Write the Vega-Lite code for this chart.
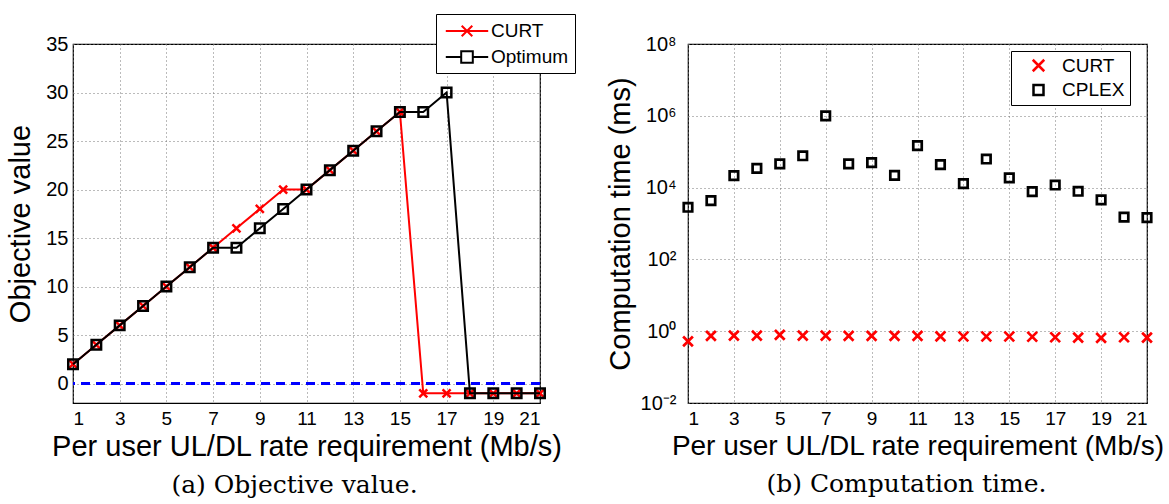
{
  "$schema": "https://vega.github.io/schema/vega-lite/v6.json",
  "padding": {"left": 6, "top": 12, "right": 5, "bottom": 0},
  "background": "white",
  "datasets": {
    "obj": [
      {"x": 1, "series": "CURT", "value": 2}, {"x": 2, "series": "CURT", "value": 4}, {"x": 3, "series": "CURT", "value": 6},
      {"x": 4, "series": "CURT", "value": 8}, {"x": 5, "series": "CURT", "value": 10}, {"x": 6, "series": "CURT", "value": 12},
      {"x": 7, "series": "CURT", "value": 14}, {"x": 8, "series": "CURT", "value": 16}, {"x": 9, "series": "CURT", "value": 18},
      {"x": 10, "series": "CURT", "value": 20}, {"x": 11, "series": "CURT", "value": 20}, {"x": 12, "series": "CURT", "value": 22},
      {"x": 13, "series": "CURT", "value": 24}, {"x": 14, "series": "CURT", "value": 26}, {"x": 15, "series": "CURT", "value": 28},
      {"x": 16, "series": "CURT", "value": -1}, {"x": 17, "series": "CURT", "value": -1}, {"x": 18, "series": "CURT", "value": -1},
      {"x": 19, "series": "CURT", "value": -1}, {"x": 20, "series": "CURT", "value": -1}, {"x": 21, "series": "CURT", "value": -1},
      {"x": 1, "series": "Optimum", "value": 2}, {"x": 2, "series": "Optimum", "value": 4}, {"x": 3, "series": "Optimum", "value": 6},
      {"x": 4, "series": "Optimum", "value": 8}, {"x": 5, "series": "Optimum", "value": 10}, {"x": 6, "series": "Optimum", "value": 12},
      {"x": 7, "series": "Optimum", "value": 14}, {"x": 8, "series": "Optimum", "value": 14}, {"x": 9, "series": "Optimum", "value": 16},
      {"x": 10, "series": "Optimum", "value": 18}, {"x": 11, "series": "Optimum", "value": 20}, {"x": 12, "series": "Optimum", "value": 22},
      {"x": 13, "series": "Optimum", "value": 24}, {"x": 14, "series": "Optimum", "value": 26}, {"x": 15, "series": "Optimum", "value": 28},
      {"x": 16, "series": "Optimum", "value": 28}, {"x": 17, "series": "Optimum", "value": 30}, {"x": 18, "series": "Optimum", "value": -1},
      {"x": 19, "series": "Optimum", "value": -1}, {"x": 20, "series": "Optimum", "value": -1}, {"x": 21, "series": "Optimum", "value": -1}
    ],
    "zero": [{"value": 0}],
    "time": [
      {"x": 1, "series": "CURT", "ms": 0.52}, {"x": 2, "series": "CURT", "ms": 0.74}, {"x": 3, "series": "CURT", "ms": 0.75},
      {"x": 4, "series": "CURT", "ms": 0.75}, {"x": 5, "series": "CURT", "ms": 0.79}, {"x": 6, "series": "CURT", "ms": 0.75},
      {"x": 7, "series": "CURT", "ms": 0.75}, {"x": 8, "series": "CURT", "ms": 0.74}, {"x": 9, "series": "CURT", "ms": 0.74},
      {"x": 10, "series": "CURT", "ms": 0.74}, {"x": 11, "series": "CURT", "ms": 0.74}, {"x": 12, "series": "CURT", "ms": 0.72},
      {"x": 13, "series": "CURT", "ms": 0.71}, {"x": 14, "series": "CURT", "ms": 0.71}, {"x": 15, "series": "CURT", "ms": 0.71},
      {"x": 16, "series": "CURT", "ms": 0.7}, {"x": 17, "series": "CURT", "ms": 0.68}, {"x": 18, "series": "CURT", "ms": 0.66},
      {"x": 19, "series": "CURT", "ms": 0.65}, {"x": 20, "series": "CURT", "ms": 0.68}, {"x": 21, "series": "CURT", "ms": 0.66},
      {"x": 1, "series": "CPLEX", "ms": 2830}, {"x": 2, "series": "CPLEX", "ms": 4360}, {"x": 3, "series": "CPLEX", "ms": 21500},
      {"x": 4, "series": "CPLEX", "ms": 34500}, {"x": 5, "series": "CPLEX", "ms": 46000}, {"x": 6, "series": "CPLEX", "ms": 77000},
      {"x": 7, "series": "CPLEX", "ms": 1000000}, {"x": 8, "series": "CPLEX", "ms": 46000}, {"x": 9, "series": "CPLEX", "ms": 49500},
      {"x": 10, "series": "CPLEX", "ms": 22000}, {"x": 11, "series": "CPLEX", "ms": 147000}, {"x": 12, "series": "CPLEX", "ms": 43500},
      {"x": 13, "series": "CPLEX", "ms": 12900}, {"x": 14, "series": "CPLEX", "ms": 62500}, {"x": 15, "series": "CPLEX", "ms": 18600},
      {"x": 16, "series": "CPLEX", "ms": 7740}, {"x": 17, "series": "CPLEX", "ms": 11800}, {"x": 18, "series": "CPLEX", "ms": 7900},
      {"x": 19, "series": "CPLEX", "ms": 4550}, {"x": 20, "series": "CPLEX", "ms": 1500}, {"x": 21, "series": "CPLEX", "ms": 1450}
    ]
  },
  "hconcat": [
    {
      "width": 467,
      "height": 359,
      "title": {"text": "(a) Objective value.", "orient": "bottom", "font": "DejaVu Serif", "fontSize": 25, "fontWeight": "normal", "color": "black", "dx": -12, "offset": 12},
      "layer": [
        {
          "data": {"name": "zero"},
          "mark": {"type": "rule", "color": "#0000ff", "strokeWidth": 3, "strokeDash": [9, 6]},
          "encoding": {
            "y": {"field": "value", "type": "quantitative", "scale": {"domain": [-2, 35], "nice": false, "zero": false},
                  "axis": {"values": [0, 5, 10, 15, 20, 25, 30, 35], "title": "Objective value", "labelPadding": 5, "titlePadding": 10}}
          }
        },
        {
          "data": {"name": "obj"},
          "transform": [{"filter": "datum.series == 'CURT'"}],
          "mark": {"type": "line", "color": "#ff0000", "strokeWidth": 2},
          "encoding": {
            "x": {"field": "x", "type": "quantitative", "scale": {"domain": [1, 21], "nice": false, "zero": false},
                  "axis": {"values": [1, 3, 5, 7, 9, 11, 13, 15, 17, 19, 21], "format": "d", "title": "Per user UL/DL rate requirement (Mb/s)", "labelPadding": 6, "titlePadding": 4, "labelFontSize": 19}},
            "y": {"field": "value", "type": "quantitative", "scale": {"domain": [-2, 35], "nice": false, "zero": false},
                  "axis": {"values": [0, 5, 10, 15, 20, 25, 30, 35], "title": "Objective value", "labelPadding": 5, "titlePadding": 10}}
          }
        },
        {
          "data": {"name": "obj"},
          "transform": [{"filter": "datum.series == 'CURT'"}],
          "mark": {"type": "point", "shape": "M-1,-1L1,1M-1,1L1,-1", "filled": false, "stroke": "#ff0000", "strokeWidth": 2.5, "size": 64, "opacity": 1},
          "encoding": {
            "x": {"field": "x", "type": "quantitative", "scale": {"domain": [1, 21], "nice": false, "zero": false},
                  "axis": {"values": [1, 3, 5, 7, 9, 11, 13, 15, 17, 19, 21], "format": "d", "title": "Per user UL/DL rate requirement (Mb/s)", "labelPadding": 6, "titlePadding": 4, "labelFontSize": 19}},
            "y": {"field": "value", "type": "quantitative", "scale": {"domain": [-2, 35], "nice": false, "zero": false},
                  "axis": {"values": [0, 5, 10, 15, 20, 25, 30, 35], "title": "Objective value", "labelPadding": 5, "titlePadding": 10}}
          }
        },
        {
          "data": {"name": "obj"},
          "transform": [{"filter": "datum.series == 'Optimum'"}],
          "mark": {"type": "line", "color": "#000000", "strokeWidth": 2},
          "encoding": {
            "x": {"field": "x", "type": "quantitative", "scale": {"domain": [1, 21], "nice": false, "zero": false},
                  "axis": {"values": [1, 3, 5, 7, 9, 11, 13, 15, 17, 19, 21], "format": "d", "title": "Per user UL/DL rate requirement (Mb/s)", "labelPadding": 6, "titlePadding": 4, "labelFontSize": 19}},
            "y": {"field": "value", "type": "quantitative", "scale": {"domain": [-2, 35], "nice": false, "zero": false},
                  "axis": {"values": [0, 5, 10, 15, 20, 25, 30, 35], "title": "Objective value", "labelPadding": 5, "titlePadding": 10}}
          }
        },
        {
          "data": {"name": "obj"},
          "transform": [{"filter": "datum.series == 'Optimum'"}],
          "mark": {"type": "point", "shape": "square", "filled": false, "stroke": "#000000", "strokeWidth": 2.5, "size": 90, "opacity": 1},
          "encoding": {
            "x": {"field": "x", "type": "quantitative", "scale": {"domain": [1, 21], "nice": false, "zero": false},
                  "axis": {"values": [1, 3, 5, 7, 9, 11, 13, 15, 17, 19, 21], "format": "d", "title": "Per user UL/DL rate requirement (Mb/s)", "labelPadding": 6, "titlePadding": 4, "labelFontSize": 19}},
            "y": {"field": "value", "type": "quantitative", "scale": {"domain": [-2, 35], "nice": false, "zero": false},
                  "axis": {"values": [0, 5, 10, 15, 20, 25, 30, 35], "title": "Objective value", "labelPadding": 5, "titlePadding": 10}}
          }
        },
        {
          "data": {"name": "obj"},
          "transform": [{"filter": "false"}],
          "mark": {"type": "point", "filled": false, "strokeWidth": 2, "opacity": 1},
          "encoding": {
            "color": {"field": "series", "type": "nominal",
                      "scale": {"domain": ["CURT", "Optimum"], "range": ["#ff0000", "#000000"]},
                      "legend": {"title": null, "orient": "none", "legendX": 363, "legendY": -30,
                                 "symbolSize": 400, "symbolStrokeWidth": 2, "symbolOffset": 14, "labelOffset": 13,
                                 "labelFont": "Liberation Sans", "labelFontSize": 19, "labelColor": "black",
                                 "strokeColor": "black", "fillColor": "white", "padding": 6, "rowPadding": 5}},
            "shape": {"field": "series", "type": "nominal",
                      "scale": {"domain": ["CURT", "Optimum"], "range": ["M-2.12,0H2.12M-0.53,-0.53L0.53,0.53M-0.53,0.53L0.53,-0.53", "M-2.12,0H-0.58M0.58,0H2.12M-0.58,-0.58H0.58V0.58H-0.58Z"]},
                      "legend": {"title": null, "orient": "none", "legendX": 363, "legendY": -30,
                                 "symbolSize": 400, "symbolStrokeWidth": 2, "symbolOffset": 14, "labelOffset": 13,
                                 "labelFont": "Liberation Sans", "labelFontSize": 19, "labelColor": "black",
                                 "strokeColor": "black", "fillColor": "white", "padding": 6, "rowPadding": 5}}
          }
        }
      ]
    },
    {
      "width": 459,
      "height": 359,
      "title": {"text": "(b) Computation time.", "orient": "bottom", "font": "DejaVu Serif", "fontSize": 25, "fontWeight": "normal", "color": "black", "dx": -11, "offset": 12},
      "data": {"name": "time"},
      "mark": {"type": "point", "filled": false, "strokeWidth": 2.7, "size": 72, "opacity": 1},
      "encoding": {
        "x": {"field": "x", "type": "quantitative", "scale": {"domain": [1, 21], "nice": false, "zero": false},
              "axis": {"values": [1, 3, 5, 7, 9, 11, 13, 15, 17, 19, 21], "format": "d", "title": "Per user UL/DL rate requirement (Mb/s)", "labelPadding": 6, "titlePadding": 4, "labelFontSize": 19, "titleFontSize": 28}},
        "y": {"field": "ms", "type": "quantitative", "scale": {"type": "log", "domain": [0.01, 100000000], "nice": false},
              "axis": {"values": [0.01, 1, 100, 10000, 1000000, 100000000], "title": "Computation time (ms)", "labelPadding": 12, "titlePadding": 5,
                       "labelExpr": "'10' + ['⁻²','⁰','²','⁴','⁶','⁸'][round(log(datum.value)/LN10/2)+1]"}},
        "color": {"field": "series", "type": "nominal",
                  "scale": {"domain": ["CURT", "CPLEX"], "range": ["#ff0000", "#000000"]},
                  "legend": {"title": null, "orient": "none", "legendX": 323, "legendY": 7,
                             "symbolStrokeWidth": 2.5, "symbolOffset": 13, "labelOffset": 14,
                             "labelFont": "Liberation Sans", "labelFontSize": 19, "labelColor": "black",
                             "strokeColor": "black", "fillColor": "white", "padding": 5, "rowPadding": 2.5}},
        "shape": {"field": "series", "type": "nominal",
                  "scale": {"domain": ["CURT", "CPLEX"], "range": ["M-1.15,-1.15L1.15,1.15M-1.15,1.15L1.15,-1.15", "square"]},
                  "legend": {"title": null, "orient": "none", "legendX": 323, "legendY": 7,
                             "symbolStrokeWidth": 2.5, "symbolOffset": 13, "labelOffset": 14,
                             "labelFont": "Liberation Sans", "labelFontSize": 19, "labelColor": "black",
                             "strokeColor": "black", "fillColor": "white", "padding": 5, "rowPadding": 2.5}}
      }
    }
  ],
  "spacing": 148,
  "bounds": "flush",
  "resolve": {"scale": {"color": "independent", "shape": "independent", "x": "independent", "y": "independent"}, "legend": {"color": "independent", "shape": "independent"}},
  "config": {
    "view": {"stroke": "black", "strokeWidth": 1.2},
    "axis": {
      "domain": false,
      "ticks": false,
      "labelFont": "Liberation Sans",
      "labelFontSize": 20,
      "labelColor": "black",
      "titleFont": "Liberation Sans",
      "titleFontSize": 29,
      "titleFontWeight": "normal",
      "titleColor": "black",
      "grid": true,
      "gridColor": "#777777",
      "gridDash": [1, 3],
      "gridWidth": 1,
      "gridOpacity": 1
    }
  }
}
